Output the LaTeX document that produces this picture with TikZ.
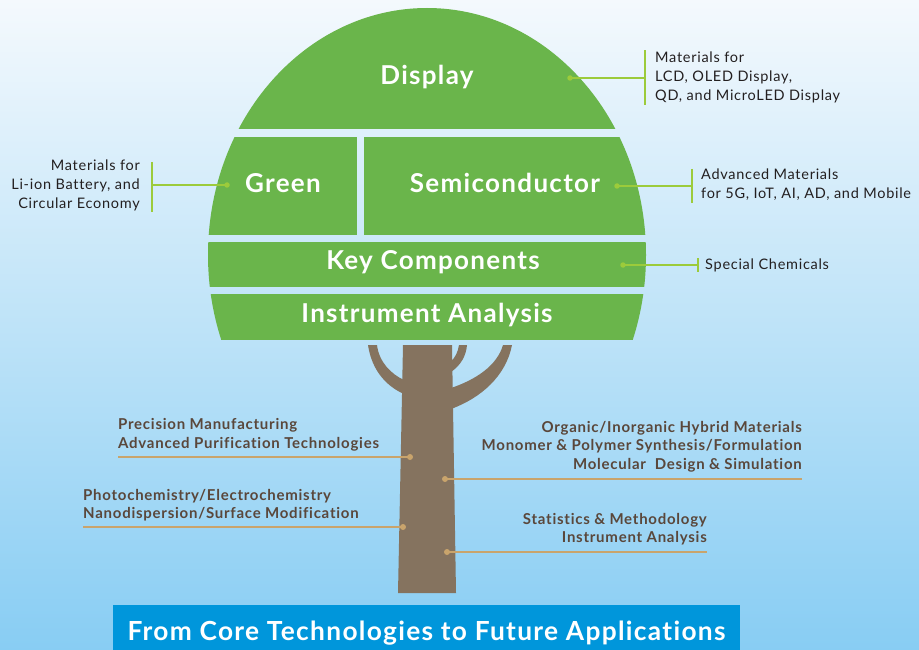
\documentclass[tikz,border=0pt]{standalone}
\usepackage{fontspec}
\setmainfont{Lato}[Ligatures={NoCommon,NoContextual}]
\definecolor{leaf}{HTML}{6AB54B}
\definecolor{bark}{HTML}{85735F}
\definecolor{lime}{HTML}{9CCB3B}
\definecolor{tanline}{HTML}{C9A46C}
\definecolor{barktxt}{HTML}{5A473B}
\definecolor{bannerblue}{HTML}{0096DB}
\definecolor{skytop}{HTML}{F4F9FD}
\definecolor{skybot}{HTML}{88CDF3}
\definecolor{sidetxt}{HTML}{231F20}
\begin{document}
\begin{tikzpicture}[x=1pt,y=-1pt,
  title/.style={text=white,font=\bfseries\fontsize{26}{30}\selectfont\addfontfeatures{LetterSpace=5},inner sep=0pt},
  sidelabel/.style={text=sidetxt,font=\fontsize{14.5}{19}\selectfont\addfontfeatures{LetterSpace=5},inner sep=0pt},
  trunklabel/.style={text=barktxt,font=\bfseries\fontsize{15}{18.5}\selectfont\addfontfeatures{LetterSpace=5},inner sep=0pt},
  limedot/.style={circle,fill=lime,minimum size=5.5pt,inner sep=0pt},
  tandot/.style={circle,fill=tanline,minimum size=6pt,inner sep=0pt},
  limeline/.style={draw=lime,line width=2.4pt},
  tanlinestyle/.style={draw=tanline,line width=2.4pt}]
\useasboundingbox (0,0) rectangle (919,650);
\clip (0,0) rectangle (919,650);
% sky
\shade[top color=skytop,bottom color=skybot] (0,0) rectangle (919,650);
% canopy
\begin{scope}
  \clip (427,255) ellipse [x radius=219,y radius=247];
  \fill[leaf] (190,0) rectangle (670,129);
  \fill[leaf] (190,137) rectangle (357,235);
  \fill[leaf] (364,137) rectangle (670,235);
  \fill[leaf] (190,242) rectangle (670,287);
  \fill[leaf] (190,294) rectangle (670,340);
\end{scope}
% trunk and branches
\fill[bark] (403,345) -- (452,345) -- (456,593) -- (398,593) -- cycle;
\fill[bark] (368,345) .. controls (372,372) and (388,387) .. (404,394)
  -- (404,380) .. controls (391,374) and (379,362) .. (377,345) -- cycle;
\fill[bark] (451,372) .. controls (461,365) and (466,356) .. (467,345)
  -- (459,345) .. controls (458,352) and (455,358) .. (451,361) -- cycle;
\fill[bark] (512,345) .. controls (506,376) and (481,398) .. (451,409)
  -- (451,388) .. controls (475,380) and (497,366) .. (503,345) -- cycle;
% canopy titles
\node[title] (display) at (427,77) {Display};
\node[title] (green) at (283,183) {Green};
\node[title] (semi) at (505,183) {Semiconductor};
\node[title] (keycomp) at (433,262) {Key Components};
\node[title] (instr) at (427,315) {Instrument Analysis};
% side labels
\node[sidelabel,anchor=west,align=left] (dispL) at (655,77) {Materials for\\LCD, OLED Display,\\QD, and MicroLED Display};
\node[limedot] (dispD) at (570,78) {};
\coordinate (dispB) at (645,78);
\draw[limeline] (dispD.center) -- (dispB);
\draw[limeline] ([yshift=27.5pt]dispB) -- ([yshift=-27.5pt]dispB);

\node[sidelabel,anchor=east,align=right] (greenL) at (140,185) {Materials for\\Li-ion Battery, and\\Circular Economy};
\node[limedot] (greenD) at (227,185) {};
\coordinate (greenB) at (152,185);
\draw[limeline] (greenD.center) -- (greenB);
\draw[limeline] ([yshift=23pt]greenB) -- ([yshift=-27pt]greenB);

\node[sidelabel,anchor=west,align=left] (semiL) at (701,185) {Advanced Materials\\for 5G, IoT, AI, AD, and Mobile};
\node[limedot] (semiD) at (617,186) {};
\coordinate (semiB) at (692,186);
\draw[limeline] (semiD.center) -- (semiB);
\draw[limeline] ([yshift=17pt]semiB) -- ([yshift=-17pt]semiB);

\node[sidelabel,anchor=west] (specL) at (705,265) {Special Chemicals};
\node[limedot] (specD) at (623,265) {};
\coordinate (specB) at (698,265);
\draw[limeline] (specD.center) -- (specB);
\draw[limeline] ([yshift=7pt]specB) -- ([yshift=-7pt]specB);

% trunk labels
\node[trunklabel,anchor=west,align=left] (tl1) at (118,435) {Precision Manufacturing\\Advanced Purification Technologies};
\node[tandot] (tl1D) at (410,457) {};
\coordinate (tl1E) at (118,457);
\draw[tanlinestyle] (tl1E) -- (tl1D.center);

\node[trunklabel,anchor=west,align=left] (tl2) at (83,505) {Photochemistry/Electrochemistry\\Nanodispersion/Surface Modification};
\node[tandot] (tl2D) at (403,527) {};
\coordinate (tl2E) at (83,527);
\draw[tanlinestyle] (tl2E) -- (tl2D.center);

\node[trunklabel,anchor=east,align=right] (tr1) at (802,446.5) {Organic/Inorganic Hybrid Materials\\Monomer \& Polymer Synthesis/Formulation\\Molecular~ Design \& Simulation};
\node[tandot] (tr1D) at (445,479) {};
\coordinate (tr1E) at (802,479);
\draw[tanlinestyle] (tr1D.center) -- (tr1E);

\node[trunklabel,anchor=east,align=right] (tr2) at (707,529) {Statistics \& Methodology\\Instrument Analysis};
\node[tandot] (tr2D) at (447,552) {};
\coordinate (tr2E) at (707,552);
\draw[tanlinestyle] (tr2D.center) -- (tr2E);

% banner
\node[fill=bannerblue,anchor=north,minimum width=627pt,minimum height=55pt,inner sep=0pt,
  text=white,font=\bfseries\fontsize{26.3}{30}\selectfont\addfontfeatures{LetterSpace=5}] (banner) at (426.5,605) {From Core Technologies to Future Applications};
\end{tikzpicture}
\end{document}
